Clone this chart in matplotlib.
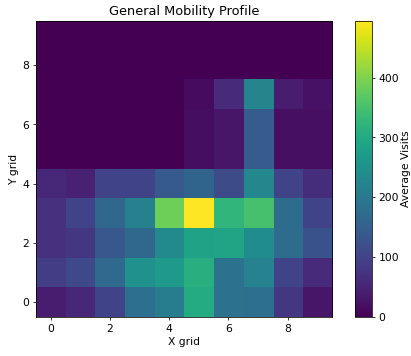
import numpy as np
import matplotlib
matplotlib.use('Agg')
import matplotlib.pyplot as plt

# Average visits per grid cell, rows are y = 0 .. 9
row_y0 = [40, 55, 100, 180, 210, 305, 185, 180, 80, 30]
row_y1 = [90, 110, 170, 250, 265, 310, 185, 220, 100, 60]
row_y2 = [70, 80, 135, 165, 235, 285, 290, 240, 175, 125]
row_y3 = [70, 100, 165, 215, 385, 495, 325, 350, 175, 100]
row_y4 = [55, 45, 100, 100, 140, 160, 115, 230, 100, 65]
row_y5 = [0, 0, 0, 0, 0, 18, 30, 145, 20, 20]
row_y6 = [0, 0, 0, 0, 0, 18, 30, 145, 20, 20]
row_y7 = [0, 0, 0, 0, 0, 15, 60, 225, 40, 25]
row_y8 = [0, 0, 0, 0, 0, 0, 0, 0, 0, 0]
row_y9 = [0, 0, 0, 0, 0, 0, 0, 0, 0, 0]

grid = np.array([row_y0, row_y1, row_y2, row_y3, row_y4,
                 row_y5, row_y6, row_y7, row_y8, row_y9])

plt.rcParams['font.size'] = 11.3

fig = plt.figure(figsize=(6, 5.2))
ax = fig.add_axes([0.0877, 0.110, 0.7203, 0.831])
cax = fig.add_axes([0.864, 0.110, 0.041, 0.831])

im = ax.imshow(grid, cmap='viridis', origin='lower', aspect='auto')
ax.set_title('General Mobility Profile', fontsize=13.5)
ax.set_xlabel('X grid')
ax.set_ylabel('Y grid')

cbar = fig.colorbar(im, cax=cax)
cbar.set_label('Average Visits', labelpad=2)

plt.savefig('out.png', dpi=68.5)
